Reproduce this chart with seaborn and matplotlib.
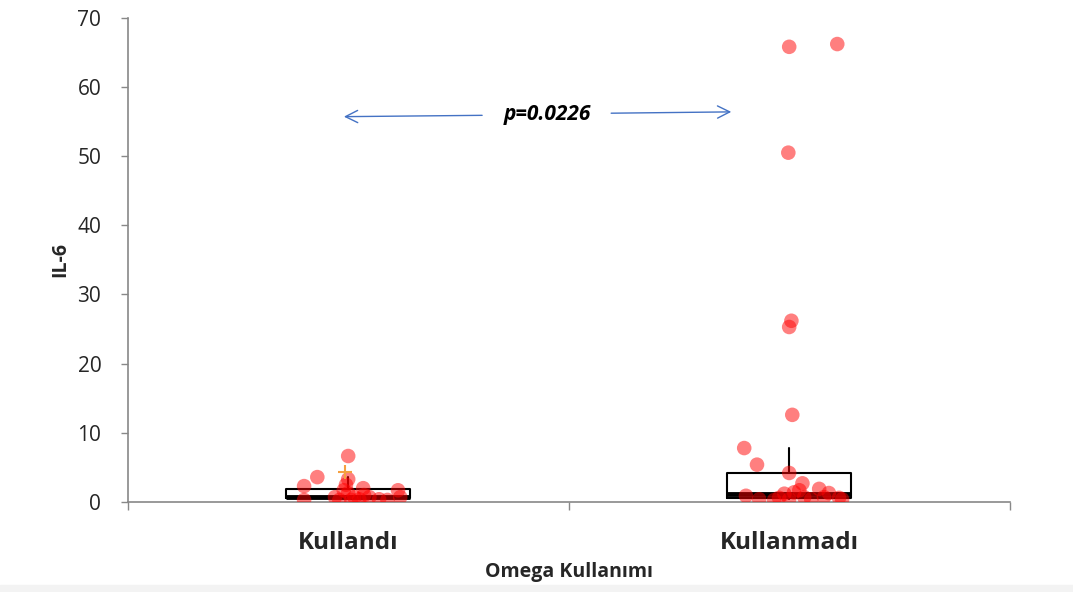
import numpy as np
import pandas as pd
import matplotlib.pyplot as plt
import seaborn as sns

# categories
groups = ['Kullandı', 'Kullanmadı']

# IL-6 values, with the horizontal jitter of each point
il6_kullandi = [6.65, 3.6, 2.3, 3.3, 0.3, 2.0, 1.7, 0.7, 0.4, 0.7,
                0.7, 1.3, 1.7, 0.7, 0.3, 0.3, 0.4, 0.3, 2.5, 1.0]
jit_kullandi = [0.00, -0.07, -0.10, 0.00, -0.10, 0.034, 0.113, 0.118, 0.07, 0.048,
                -0.03, 0.00, -0.01, 0.014, 0.007, -0.02, 0.025, 0.089, -0.005, 0.036]

il6_kullanmadi = [65.8, 66.2, 50.5, 26.2, 25.3, 12.6, 7.8, 5.4, 4.2, 2.7,
                  1.9, 1.3, 1.7, 0.9, 0.3, 0.4, 0.7, 0.6, 0.4, 0.4,
                  1.2, 1.4, 0.6, 0.7, 0.4]
jit_kullanmadi = [0.00, 0.109, -0.002, 0.005, 0.00, 0.007, -0.102, -0.073, 0.00, 0.03,
                  0.068, 0.09, 0.023, -0.098, -0.034, 0.00, 0.034, 0.113, 0.12, 0.05,
                  -0.011, 0.011, -0.023, 0.079, -0.068]

# box summaries (q1, median, q3, lower whisker, upper whisker)
q1 = [0.6, 0.6]
med = [0.75, 1.2]
q3 = [1.9, 4.2]
whis_lo = [0.6, 0.5]
whis_hi = [3.6, 7.8]

# mean marker shown for first group
mean_kullandi = 4.3

p_text = 'p=0.0226'

rows = []
for i, (vals, jit) in enumerate([(il6_kullandi, jit_kullandi), (il6_kullanmadi, jit_kullanmadi)]):
    for v, j in zip(vals, jit):
        rows.append({'pos': i + j, 'IL6': v, 'grup': groups[i]})
df = pd.DataFrame(rows)

sns.set_theme(style="white")
plt.rcParams['font.family'] = ['Open Sans', 'DejaVu Sans']

fig = plt.figure(figsize=(10.73, 5.92), dpi=100)
# faint grey strip along the bottom edge, as in the source image
fig.patches.append(plt.Rectangle((0, 0), 1, 0.011, transform=fig.transFigure,
                                 color='#F3F3F3', zorder=0))
ax = fig.add_axes([0.119, 0.152, 0.822, 0.818])

stats = []
for i in range(2):
    stats.append({'q1': q1[i], 'med': med[i], 'q3': q3[i],
                  'whislo': whis_lo[i], 'whishi': whis_hi[i], 'fliers': []})
ax.bxp(stats, positions=[0, 1], widths=0.28, showcaps=False, manage_ticks=False,
       boxprops=dict(color='black', linewidth=1.5),
       whiskerprops=dict(color='black', linewidth=1.5),
       medianprops=dict(color='black', linewidth=3.5))

sns.scatterplot(data=df, x='pos', y='IL6', color='red', alpha=0.5, s=110,
                edgecolor='none', ax=ax, legend=False, zorder=3)
ax.plot([0 - 0.007], [mean_kullandi], marker='+', color='#F5A040', markersize=10,
        markeredgewidth=1.5, linestyle='none', zorder=4)

# p-value with arrows
ax.annotate('', xy=(-0.016, 55.7), xytext=(0.31, 55.9),
            arrowprops=dict(arrowstyle='->', color='#4472C4', lw=1, mutation_scale=22))
ax.annotate('', xy=(0.875, 56.4), xytext=(0.59, 56.2),
            arrowprops=dict(arrowstyle='->', color='#4472C4', lw=1, mutation_scale=22))
ax.text(0.451, 56.0, p_text, ha='center', va='center', fontsize=15,
        fontweight='bold', fontstyle='italic', color='black')

ax.set_xlim(-0.5, 1.5)
ax.set_ylim(0, 70)
ax.set_yticks(np.arange(0, 71, 10))
ax.set_xticks([-0.5, 0.5, 1.5])
ax.set_xticklabels([])
ax.set_xticks([0, 1], minor=True)
ax.set_xticklabels(groups, minor=True, fontsize=17.5, fontweight='bold')
ax.tick_params(axis='x', which='minor', length=0, pad=21)
ax.tick_params(axis='x', which='major', direction='out', length=6, color='#888888', width=1, bottom=True)
ax.tick_params(axis='y', direction='out', length=5, color='#888888', width=1, left=True, labelsize=15, pad=14)

for s in ['top', 'right']:
    ax.spines[s].set_visible(False)
for s in ['left', 'bottom']:
    ax.spines[s].set_color('#888888')
    ax.spines[s].set_linewidth(1.2)

ax.set_ylabel('IL-6', fontsize=14, fontweight='bold', labelpad=5)
ax.set_xlabel('Omega Kullanımı', fontsize=14, fontweight='bold', labelpad=5)
ax.grid(False)

plt.savefig('out.png', dpi=100)
